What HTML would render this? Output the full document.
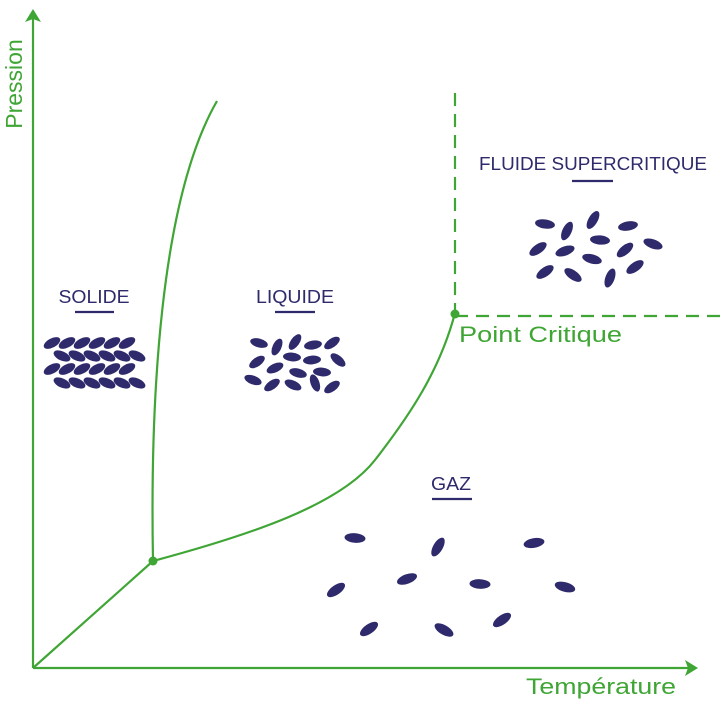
<!DOCTYPE html>
<html><head><meta charset="utf-8"><style>html,body{margin:0;padding:0;background:#fff}svg{display:block}</style></head>
<body>
<svg width="725" height="712" viewBox="0 0 725 712" xmlns="http://www.w3.org/2000/svg" font-family="Liberation Sans, sans-serif">
<g stroke="#3fa535" stroke-width="2.2" fill="none">
<line x1="33" y1="668" x2="33" y2="14"/>
<line x1="33" y1="668" x2="693" y2="668"/>
<line x1="33" y1="668" x2="153" y2="561"/>
<path d="M153,561 C150,400 160,200 217,101"/>
<path d="M153,561 C250,535 340,505 375,460 C410,415 440,370 455,313"/>
<line x1="455" y1="93" x2="455" y2="313" stroke-dasharray="13,8"/>
<line x1="455" y1="316" x2="725" y2="316" stroke-dasharray="13,8"/>
</g>
<g fill="#3fa535">
<polygon points="33,9 25,22 33,19 41,22"/>
<polygon points="698,668 685,660 688,668 685,676"/>
<circle cx="153" cy="561" r="4.5"/>
<circle cx="455" cy="314" r="4.5"/>
<text x="14" y="84" font-size="23" text-anchor="middle" transform="rotate(-90 14 84)" dy="8">Pression</text>
<text x="459" y="342" font-size="22" textLength="163" lengthAdjust="spacingAndGlyphs">Point Critique</text>
<text x="526" y="694" font-size="22" textLength="150" lengthAdjust="spacingAndGlyphs">Température</text>
</g>
<g fill="#2e2a6b" font-size="18" text-anchor="middle">
<text x="94" y="303" textLength="71" lengthAdjust="spacingAndGlyphs">SOLIDE</text>
<text x="295" y="303" textLength="78" lengthAdjust="spacingAndGlyphs">LIQUIDE</text>
<text x="593" y="170" textLength="228" lengthAdjust="spacingAndGlyphs">FLUIDE SUPERCRITIQUE</text>
<text x="451" y="490" textLength="40" lengthAdjust="spacingAndGlyphs">GAZ</text>
</g>
<g stroke="#2e2a6b" stroke-width="2.2">
<line x1="75" y1="312" x2="114" y2="312"/>
<line x1="275" y1="312" x2="315" y2="312"/>
<line x1="572" y1="181" x2="613" y2="181"/>
<line x1="432" y1="499" x2="472" y2="499"/>
</g>
<g fill="#2e2a6b">
<g id="r1"><ellipse cx="52" cy="343" rx="9" ry="4.6" transform="rotate(-28 52 343)"/><ellipse cx="67" cy="343" rx="9" ry="4.6" transform="rotate(-28 67 343)"/><ellipse cx="82" cy="343" rx="9" ry="4.6" transform="rotate(-28 82 343)"/><ellipse cx="97" cy="343" rx="9" ry="4.6" transform="rotate(-28 97 343)"/><ellipse cx="112" cy="343" rx="9" ry="4.6" transform="rotate(-28 112 343)"/><ellipse cx="127" cy="343" rx="9" ry="4.6" transform="rotate(-28 127 343)"/></g>
<g id="r2"><ellipse cx="62" cy="356" rx="9" ry="4.6" transform="rotate(25 62 356)"/><ellipse cx="77" cy="356" rx="9" ry="4.6" transform="rotate(25 77 356)"/><ellipse cx="92" cy="356" rx="9" ry="4.6" transform="rotate(25 92 356)"/><ellipse cx="107" cy="356" rx="9" ry="4.6" transform="rotate(25 107 356)"/><ellipse cx="122" cy="356" rx="9" ry="4.6" transform="rotate(25 122 356)"/><ellipse cx="137" cy="356" rx="9" ry="4.6" transform="rotate(25 137 356)"/></g>
<use href="#r1" transform="translate(0,26)"/>
<use href="#r2" transform="translate(0,27)"/>
<ellipse cx="259" cy="343" rx="9" ry="4.4" transform="rotate(15 259 343)"/>
<ellipse cx="277" cy="347" rx="9" ry="4.4" transform="rotate(-65 277 347)"/>
<ellipse cx="295" cy="342" rx="9" ry="4.4" transform="rotate(-55 295 342)"/>
<ellipse cx="313" cy="345" rx="9" ry="4.4" transform="rotate(-10 313 345)"/>
<ellipse cx="332" cy="343" rx="9" ry="4.4" transform="rotate(-35 332 343)"/>
<ellipse cx="257" cy="362" rx="9" ry="4.4" transform="rotate(-35 257 362)"/>
<ellipse cx="292" cy="357" rx="9" ry="4.4" transform="rotate(5 292 357)"/>
<ellipse cx="312" cy="360" rx="9" ry="4.4" transform="rotate(-5 312 360)"/>
<ellipse cx="338" cy="360" rx="9" ry="4.4" transform="rotate(40 338 360)"/>
<ellipse cx="275" cy="368" rx="9" ry="4.4" transform="rotate(-25 275 368)"/>
<ellipse cx="298" cy="373" rx="9" ry="4.4" transform="rotate(15 298 373)"/>
<ellipse cx="322" cy="372" rx="9" ry="4.4" transform="rotate(5 322 372)"/>
<ellipse cx="253" cy="380" rx="9" ry="4.4" transform="rotate(20 253 380)"/>
<ellipse cx="272" cy="385" rx="9" ry="4.4" transform="rotate(-35 272 385)"/>
<ellipse cx="293" cy="385" rx="9" ry="4.4" transform="rotate(25 293 385)"/>
<ellipse cx="315" cy="383" rx="9" ry="4.4" transform="rotate(70 315 383)"/>
<ellipse cx="332" cy="387" rx="9" ry="4.4" transform="rotate(-35 332 387)"/>
<ellipse cx="545" cy="224" rx="10" ry="4.6" transform="rotate(8 545 224)"/>
<ellipse cx="567" cy="231" rx="10" ry="4.6" transform="rotate(-65 567 231)"/>
<ellipse cx="593" cy="220" rx="10" ry="4.6" transform="rotate(-60 593 220)"/>
<ellipse cx="628" cy="226" rx="10" ry="4.6" transform="rotate(-10 628 226)"/>
<ellipse cx="600" cy="240" rx="10" ry="4.6" transform="rotate(5 600 240)"/>
<ellipse cx="538" cy="249" rx="10" ry="4.6" transform="rotate(-35 538 249)"/>
<ellipse cx="565" cy="251" rx="10" ry="4.6" transform="rotate(-20 565 251)"/>
<ellipse cx="625" cy="250" rx="10" ry="4.6" transform="rotate(-40 625 250)"/>
<ellipse cx="653" cy="244" rx="10" ry="4.6" transform="rotate(20 653 244)"/>
<ellipse cx="592" cy="259" rx="10" ry="4.6" transform="rotate(15 592 259)"/>
<ellipse cx="545" cy="272" rx="10" ry="4.6" transform="rotate(-35 545 272)"/>
<ellipse cx="573" cy="275" rx="10" ry="4.6" transform="rotate(35 573 275)"/>
<ellipse cx="610" cy="278" rx="10" ry="4.6" transform="rotate(-70 610 278)"/>
<ellipse cx="635" cy="267" rx="10" ry="4.6" transform="rotate(-35 635 267)"/>
<ellipse cx="355" cy="538" rx="10.5" ry="4.8" transform="rotate(5 355 538)"/>
<ellipse cx="438" cy="547" rx="10.5" ry="4.8" transform="rotate(-60 438 547)"/>
<ellipse cx="534" cy="543" rx="10.5" ry="4.8" transform="rotate(-10 534 543)"/>
<ellipse cx="336" cy="590" rx="10.5" ry="4.8" transform="rotate(-35 336 590)"/>
<ellipse cx="407" cy="579" rx="10.5" ry="4.8" transform="rotate(-20 407 579)"/>
<ellipse cx="480" cy="584" rx="10.5" ry="4.8" transform="rotate(3 480 584)"/>
<ellipse cx="565" cy="587" rx="10.5" ry="4.8" transform="rotate(15 565 587)"/>
<ellipse cx="369" cy="629" rx="10.5" ry="4.8" transform="rotate(-35 369 629)"/>
<ellipse cx="444" cy="630" rx="10.5" ry="4.8" transform="rotate(30 444 630)"/>
<ellipse cx="502" cy="620" rx="10.5" ry="4.8" transform="rotate(-35 502 620)"/>
</g>
</svg>
</body></html>
